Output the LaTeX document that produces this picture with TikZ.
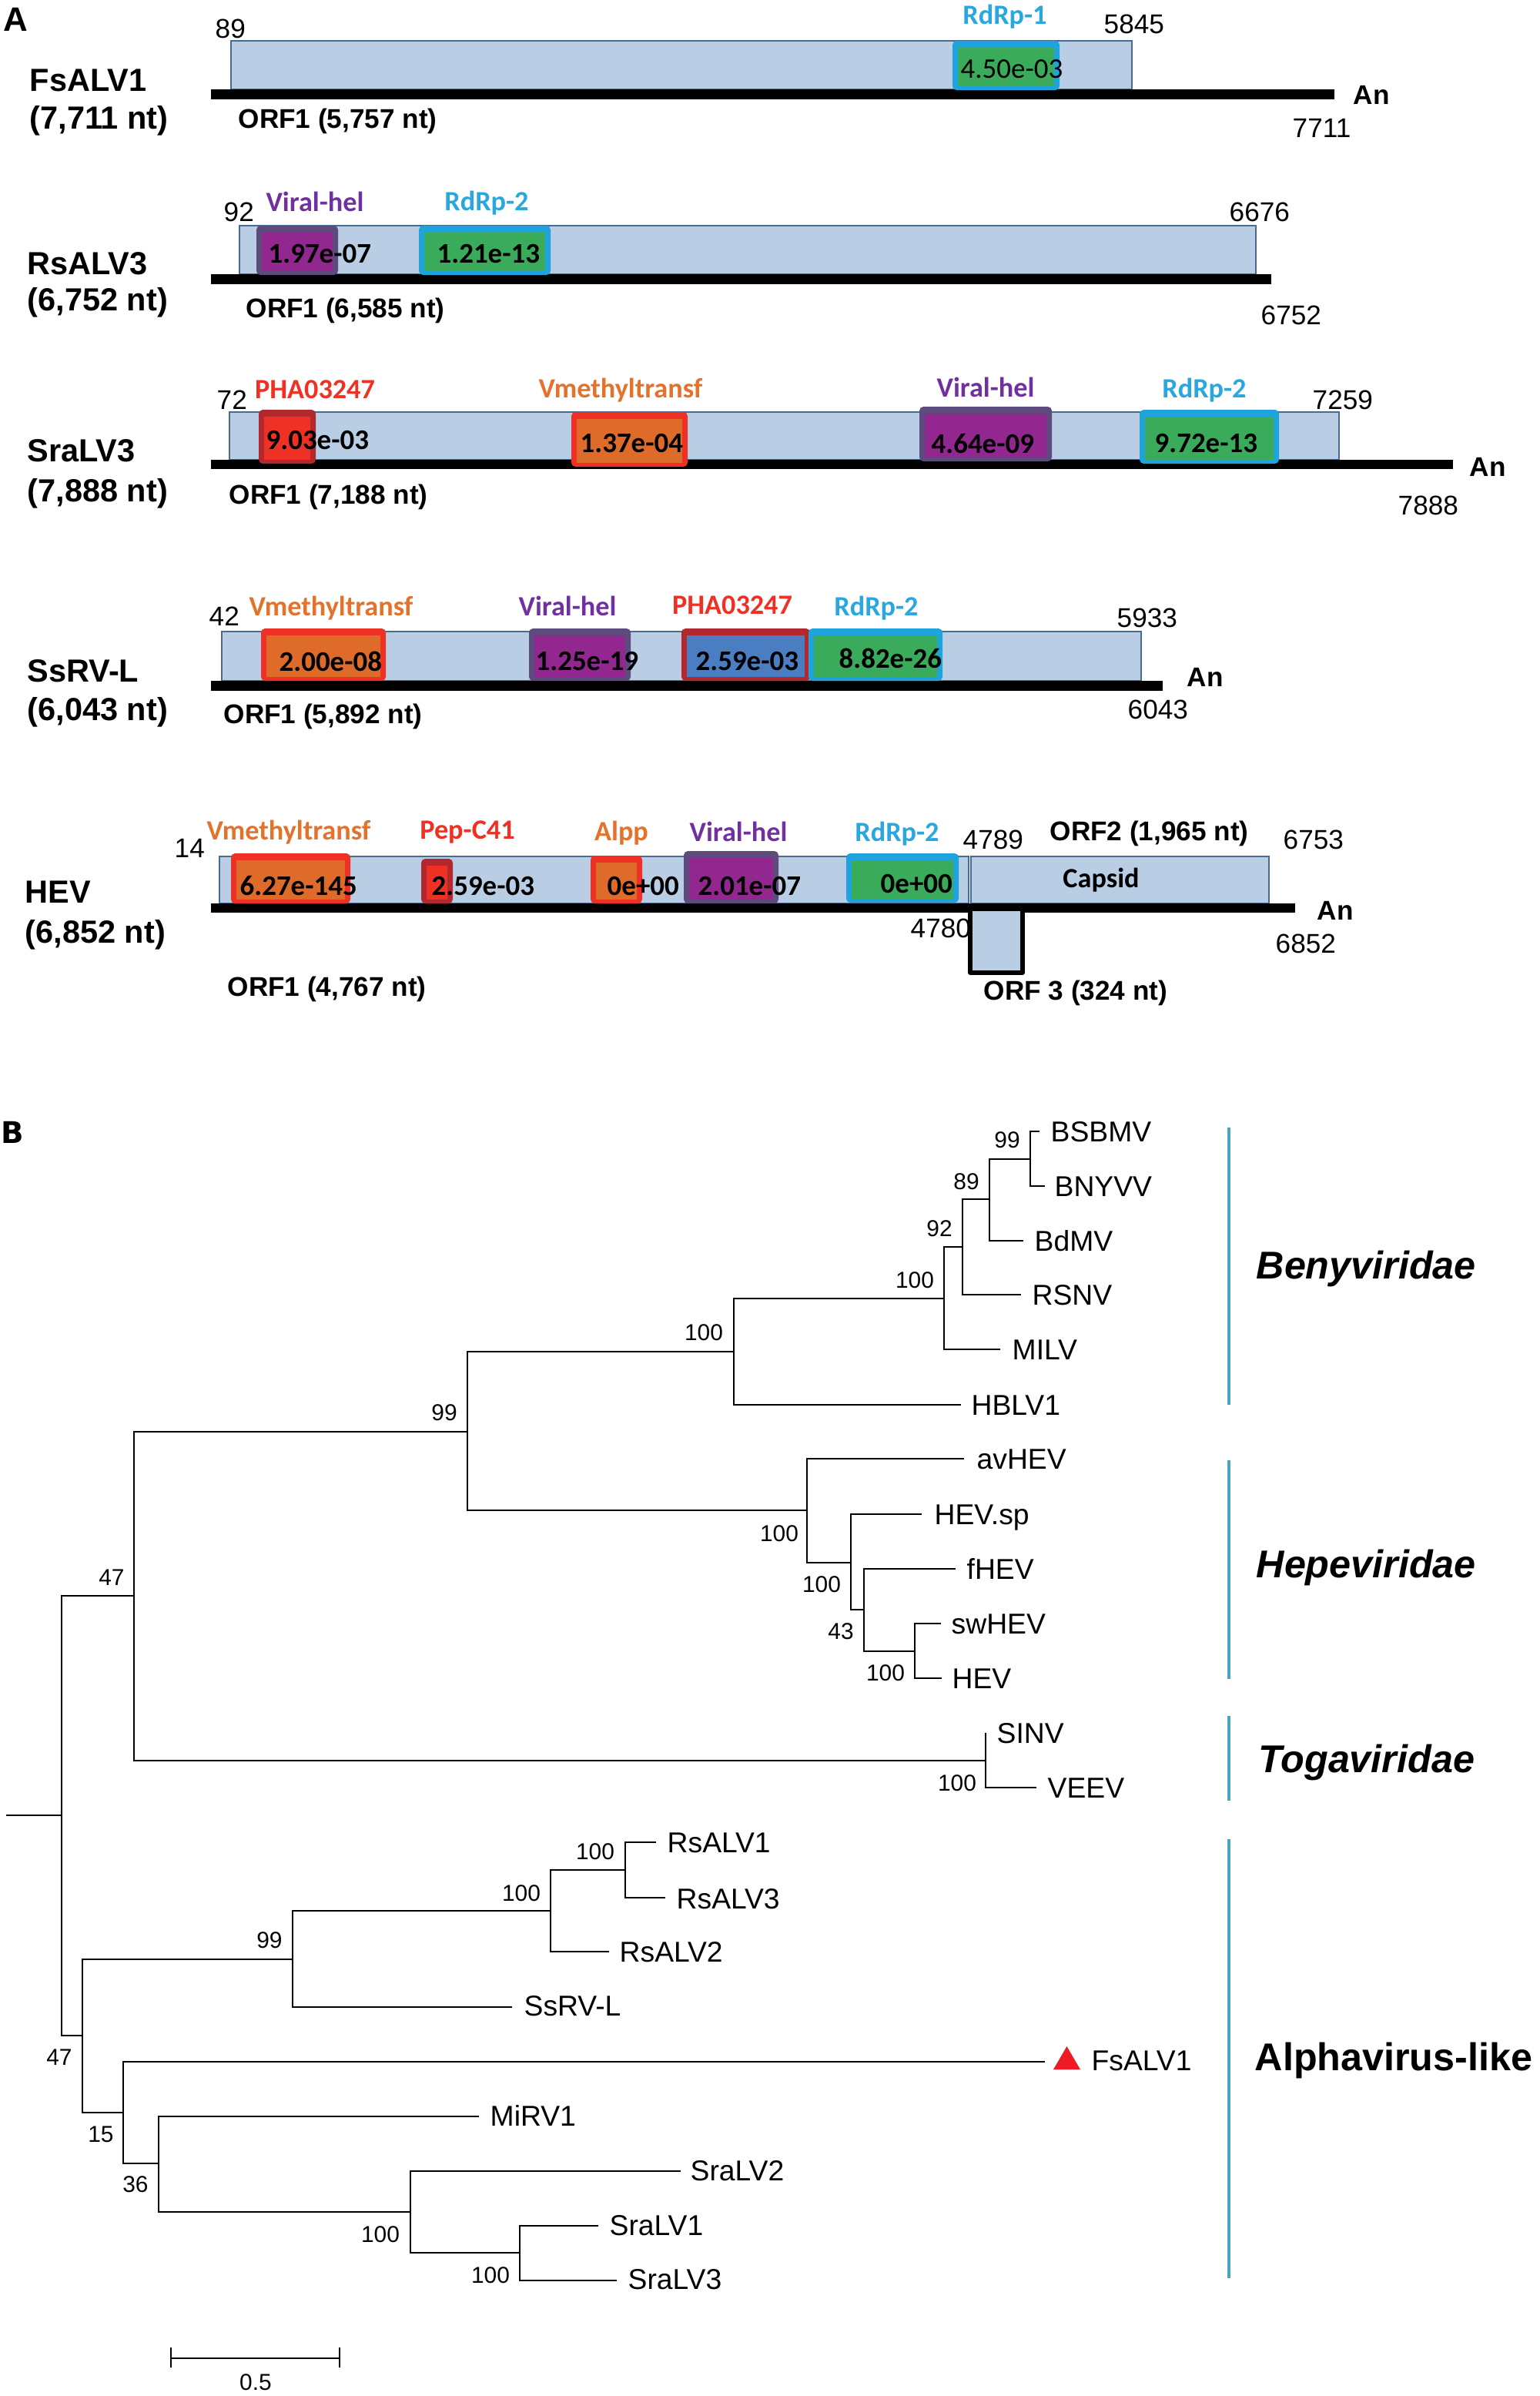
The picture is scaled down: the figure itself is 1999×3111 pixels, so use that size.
\documentclass[tikz,border=0pt]{standalone}
\usepackage{fontspec}
\setmainfont{Liberation Sans}
\newfontfamily\calib{Carlito}
\newfontfamily\djv{DejaVu Sans}
\usetikzlibrary{calc}
\definecolor{orfblue}{HTML}{B9CDE5}
\definecolor{orfedge}{HTML}{4A6B90}
\definecolor{rdrpblue}{HTML}{1FA3DC}
\definecolor{rdrpgreen}{HTML}{3AAA5B}
\definecolor{helborder}{HTML}{5E4B7D}
\definecolor{helfill}{HTML}{92278F}
\definecolor{vmred}{HTML}{EE3124}
\definecolor{vmorange}{HTML}{DF6B2B}
\definecolor{phadark}{HTML}{B1282E}
\definecolor{phared}{HTML}{EE3124}
\definecolor{phablue}{HTML}{4A7DC1}
\definecolor{labcyan}{HTML}{2AA7DF}
\definecolor{labpurple}{HTML}{7030A0}
\definecolor{labred}{HTML}{EE3124}
\definecolor{laborange}{HTML}{E3722D}
\definecolor{famcol}{HTML}{4BA3BF}
\definecolor{trired}{HTML}{ED1C24}
\newcommand{\dombox}[6]{%
  \fill[#5, rounded corners=1.5pt] (#1,#2) rectangle (#3,#4);
  \fill[#6] (#1+7,#2+9) rectangle (#3-7,#4-5);
}
\tikzset{
  gname/.style={anchor=west, inner sep=0, font=\fontsize{11.8}{13}\selectfont\bfseries},
  orflab/.style={anchor=west, inner sep=0, font=\fontsize{10}{12}\selectfont\bfseries},
  posnum/.style={anchor=west, inner sep=0, font=\fontsize{10}{12}\selectfont},
  anlab/.style={anchor=west, inner sep=0, font=\fontsize{10}{12}\selectfont\bfseries},
  dlab/.style={inner sep=0, font=\calib\fontsize{10.3}{12}\selectfont\bfseries},
  evl/.style={anchor=west, inner sep=0, font=\calib\fontsize{10.5}{12}\selectfont\bfseries},
  orfbox/.style={fill=orfblue, draw=orfedge, line width=0.6pt},
  leaf/.style={anchor=base west, inner sep=0, font=\fontsize{10.6}{12}\selectfont},
  boot/.style={inner sep=0, font=\fontsize{8.5}{10}\selectfont},
  fam/.style={anchor=base west, inner sep=0, font=\fontsize{14.3}{16}\selectfont\bfseries\itshape},
  treeedge/.style={line width=0.7pt},
  famline/.style={line width=1.4pt, color=famcol},
}
\begin{document}
\begin{tikzpicture}[x=0.01cm, y=-0.01cm]
\useasboundingbox (0,0) rectangle (1999,3111);

% ================= Panel A =================
\node[inner sep=0, font=\fontsize{12.5}{14}\selectfont\bfseries] (panelA) at (20,25) {A};

% ---- FsALV1 ----
\node[gname] (g1name) at (38,104) {FsALV1};
\node[gname] (g1len) at (38,157) {(7,711 nt)};
\draw[orfbox] (300,53) rectangle (1470,116);
\fill[black] (274,116) rectangle (1733,129);
\dombox{1237}{53}{1376}{117}{rdrpblue}{rdrpgreen}
\node[dlab, text=labcyan] (g1d1) at (1305,22) {RdRp-1};
\node[evl, font=\calib\fontsize{10.5}{12}\selectfont] (g1e1) at (1247,90) {4.50e-03};
\node[posnum] (g1s) at (279,37) {89};
\node[posnum] (g1e) at (1433,31) {5845};
\node[anlab] (g1an) at (1757,123) {An};
\node[posnum] (g1t) at (1678,166) {7711};
\node[orflab] (g1orf) at (309,157) {ORF1 (5,757 nt)};

% ---- RsALV3 ----
\node[gname] (g2name) at (35,342) {RsALV3};
\node[gname] (g2len) at (35,393) {(6,752 nt)};
\draw[orfbox] (311,293) rectangle (1631,356);
\fill[black] (274,356) rectangle (1651,369);
\dombox{333}{293}{439}{357}{helborder}{helfill}
\dombox{544}{293}{715}{357}{rdrpblue}{rdrpgreen}
\node[dlab, text=labpurple] (g2d1) at (409,262) {Viral-hel};
\node[dlab, text=labcyan] (g2d2) at (632,264) {RdRp-2};
\node[evl] (g2e1) at (348,330) {1.97e-07};
\node[evl] (g2e2) at (567,330) {1.21e-13};
\node[posnum] (g2s) at (290,275) {92};
\node[posnum] (g2e) at (1596,275) {6676};
\node[posnum] (g2t) at (1637,409) {6752};
\node[orflab] (g2orf) at (319,403) {ORF1 (6,585 nt)};

% ---- SraLV3 ----
\node[gname] (g3name) at (35,585) {SraLV3};
\node[gname] (g3len) at (35,641) {(7,888 nt)};
\draw[orfbox] (298,535) rectangle (1739,597);
\fill[black] (274,597) rectangle (1887,609);
\dombox{336}{532}{410}{602}{phadark}{phared}
\dombox{742}{535}{893}{606}{vmred}{vmorange}
\dombox{1194}{528}{1366}{599}{helborder}{helfill}
\dombox{1480}{532}{1661}{602}{rdrpblue}{rdrpgreen}
\node[dlab, text=labred] (g3d1) at (409,506) {PHA03247};
\node[dlab, text=laborange] (g3d2) at (806,507) {Vmethyltransf};
\node[dlab, text=labpurple] (g3d3) at (1280,503) {Viral-hel};
\node[dlab, text=labcyan] (g3d4) at (1564,507) {RdRp-2};
\node[evl] (g3e1) at (345,572) {9.03e-03};
\node[evl] (g3e2) at (753,576) {1.37e-04};
\node[evl] (g3e3) at (1209,576) {4.64e-09};
\node[evl] (g3e4) at (1499,576) {9.72e-13};
\node[posnum] (g3s) at (281,519) {72};
\node[posnum] (g3e) at (1704,519) {7259};
\node[anlab] (g3an) at (1908,606) {An};
\node[posnum] (g3t) at (1815,656) {7888};
\node[orflab] (g3orf) at (297,645) {ORF1 (7,188 nt)};

% ---- SsRV-L ----
\node[gname] (g4name) at (35,871) {SsRV-L};
\node[gname] (g4len) at (35,925) {(6,043 nt)};
\draw[orfbox] (288,820) rectangle (1482,884);
\fill[black] (274,884) rectangle (1510,897);
\dombox{339}{816}{501}{884}{vmred}{vmorange}
\dombox{687}{816}{819}{884}{helborder}{helfill}
\dombox{885}{816}{1052}{884}{phadark}{phablue}
\dombox{1050}{816}{1224}{884}{rdrpblue}{rdrpgreen}
\node[dlab, text=laborange] (g4d1) at (430,790) {Vmethyltransf};
\node[dlab, text=labpurple] (g4d2) at (737,787) {Viral-hel};
\node[dlab, text=labred] (g4d3) at (951,786) {PHA03247};
\node[dlab, text=labcyan] (g4d4) at (1138,790) {RdRp-2};
\node[evl] (g4e1) at (362,859) {2.00e-08};
\node[evl] (g4e2) at (695,859) {1.25e-19};
\node[evl] (g4e3) at (903,859) {2.59e-03};
\node[evl] (g4e4) at (1089,855) {8.82e-26};
\node[posnum] (g4s) at (271,800) {42};
\node[posnum] (g4e) at (1450,802) {5933};
\node[anlab] (g4an) at (1541,879) {An};
\node[posnum] (g4t) at (1464,921) {6043};
\node[orflab] (g4orf) at (290,930) {ORF1 (5,892 nt)};

% ---- HEV ----
\node[gname] (g5name) at (32,1158) {HEV};
\node[gname] (g5len) at (32,1214) {(6,852 nt)};
\draw[orfbox] (285,1112) rectangle (1258,1173);
\draw[orfbox] (1261,1112) rectangle (1648,1173);
\fill[black] (274,1173) rectangle (1682,1185);
\draw[fill=orfblue, line width=1.5pt, line join=round] (1260,1183) -- (1260,1263) -- (1328,1263) -- (1328,1183);
\dombox{300}{1108}{455}{1173}{vmred}{vmorange}
\dombox{547}{1115}{588}{1173}{phadark}{phared}
\dombox{767}{1111}{834}{1173}{vmred}{vmorange}
\dombox{888}{1105}{1011}{1173}{helborder}{helfill}
\dombox{1099}{1108}{1245}{1172}{rdrpblue}{rdrpgreen}
\node[dlab, text=laborange] (g5d1) at (375,1081) {Vmethyltransf};
\node[dlab, text=labred] (g5d2) at (607,1080) {Pep-C41};
\node[dlab, text=laborange] (g5d3) at (807,1082) {Alpp};
\node[dlab, text=labpurple] (g5d4) at (959,1080) {Viral-hel};
\node[dlab, text=labcyan] (g5d5) at (1165,1083) {RdRp-2};
\node[evl] (g5e1) at (311,1150) {6.27e-145};
\node[evl] (g5e2) at (560,1151) {2.59e-03};
\node[evl] (g5e3) at (788,1151) {0e+00};
\node[evl] (g5e4) at (906,1151) {2.01e-07};
\node[evl] (g5e5) at (1143,1148) {0e+00};
\node[dlab] (g5cap) at (1430,1143) {Capsid};
\node[posnum] (g5s) at (226,1101) {14};
\node[posnum] (g5o2s) at (1250,1090) {4789};
\node[orflab] (g5orf2) at (1363,1082) {ORF2 (1,965 nt)};
\node[posnum] (g5o2e) at (1666,1090) {6753};
\node[anlab] (g5an) at (1710,1182) {An};
\node[posnum] (g5t) at (1656,1225) {6852};
\node[posnum] (g5o3s) at (1182,1205) {4780};
\node[orflab] (g5orf3) at (1277,1289) {ORF 3 (324 nt)};
\node[orflab] (g5orf1) at (295,1284) {ORF1 (4,767 nt)};

% ================= Panel B =================
\node[inner sep=0, font=\djv\fontsize{11}{13}\selectfont\bfseries] (panelB) at (16,1470) {B};

% internal nodes
\coordinate (rootL) at (8,2357);
\coordinate (root) at (80,2357);
\coordinate (n47a) at (174,2072);
\coordinate (n99) at (607,1859);
\coordinate (nB100) at (953,1755);
\coordinate (nB100i) at (1226,1686);
\coordinate (n92) at (1250,1619);
\coordinate (n89) at (1285,1557);
\coordinate (n99b) at (1338,1505);
\coordinate (nH100) at (1048,1961);
\coordinate (nH100b) at (1105,2029);
\coordinate (n43) at (1122,2090);
\coordinate (nsw) at (1188,2144);
\coordinate (ntoga) at (1280,2286);
\coordinate (n47b) at (107,2643);
\coordinate (nR99) at (380,2544);
\coordinate (nR100) at (715,2481);
\coordinate (nR100i) at (812,2428);
\coordinate (n15) at (160,2743);
\coordinate (n36) at (206,2809);
\coordinate (nS100) at (533,2872);
\coordinate (nS100i) at (675,2925);
% leaves
\coordinate (cBSBMV) at (1350,1469);
\coordinate (cBNYVV) at (1357,1540);
\coordinate (cBdMV) at (1329,1611);
\coordinate (cRSNV) at (1326,1681);
\coordinate (cMILV) at (1299,1752);
\coordinate (cHBLV1) at (1248,1824);
\coordinate (cavHEV) at (1252,1894);
\coordinate (cHEVsp) at (1197,1966);
\coordinate (cfHEV) at (1241,2037);
\coordinate (cswHEV) at (1222,2108);
\coordinate (cHEV) at (1223,2179);
\coordinate (cSINV) at (1280,2250);
\coordinate (cVEEV) at (1346,2321);
\coordinate (cRsALV1) at (852,2392);
\coordinate (cRsALV3) at (864,2464);
\coordinate (cRsALV2) at (791,2534);
\coordinate (cSsRVL) at (665,2606);
\coordinate (cFsALV1) at (1357,2677);
\coordinate (cMiRV1) at (622,2748);
\coordinate (cSraLV2) at (884,2819);
\coordinate (cSraLV1) at (777,2890);
\coordinate (cSraLV3) at (801,2961);

% edges
\draw[treeedge] (rootL) -- (root);
\draw[treeedge] (root) |- (n47a);
\draw[treeedge] (root) |- (n47b);
\draw[treeedge] (n47a) |- (n99);
\draw[treeedge] (n47a) |- (ntoga);
\draw[treeedge] (n99) |- (nB100);
\draw[treeedge] (n99) |- (nH100);
\draw[treeedge] (nB100) |- (nB100i);
\draw[treeedge] (nB100) |- (cHBLV1);
\draw[treeedge] (nB100i) |- (n92);
\draw[treeedge] (nB100i) |- (cMILV);
\draw[treeedge] (n92) |- (n89);
\draw[treeedge] (n92) |- (cRSNV);
\draw[treeedge] (n89) |- (n99b);
\draw[treeedge] (n89) |- (cBdMV);
\draw[treeedge] (n99b) |- (cBSBMV);
\draw[treeedge] (n99b) |- (cBNYVV);
\draw[treeedge] (nH100) |- (cavHEV);
\draw[treeedge] (nH100) |- (nH100b);
\draw[treeedge] (nH100b) |- (cHEVsp);
\draw[treeedge] (nH100b) |- (n43);
\draw[treeedge] (n43) |- (cfHEV);
\draw[treeedge] (n43) |- (nsw);
\draw[treeedge] (nsw) |- (cswHEV);
\draw[treeedge] (nsw) |- (cHEV);
\draw[treeedge] (ntoga) |- (cSINV);
\draw[treeedge] (ntoga) |- (cVEEV);
\draw[treeedge] (n47b) |- (nR99);
\draw[treeedge] (n47b) |- (n15);
\draw[treeedge] (nR99) |- (nR100);
\draw[treeedge] (nR99) |- (cSsRVL);
\draw[treeedge] (nR100) |- (nR100i);
\draw[treeedge] (nR100) |- (cRsALV2);
\draw[treeedge] (nR100i) |- (cRsALV1);
\draw[treeedge] (nR100i) |- (cRsALV3);
\draw[treeedge] (n15) |- (cFsALV1);
\draw[treeedge] (n15) |- (n36);
\draw[treeedge] (n36) |- (cMiRV1);
\draw[treeedge] (n36) |- (nS100);
\draw[treeedge] (nS100) |- (cSraLV2);
\draw[treeedge] (nS100) |- (nS100i);
\draw[treeedge] (nS100i) |- (cSraLV1);
\draw[treeedge] (nS100i) |- (cSraLV3);

% leaf labels
\node[leaf] (tBSBMV) at ($(cBSBMV)+(14,13)$) {BSBMV};
\node[leaf] (tBNYVV) at ($(cBNYVV)+(12,13)$) {BNYVV};
\node[leaf] (tBdMV) at ($(cBdMV)+(14,13)$) {BdMV};
\node[leaf] (tRSNV) at ($(cRSNV)+(14,13)$) {RSNV};
\node[leaf] (tMILV) at ($(cMILV)+(15,13)$) {MILV};
\node[leaf] (tHBLV1) at ($(cHBLV1)+(13,13)$) {HBLV1};
\node[leaf] (tavHEV) at ($(cavHEV)+(16,13)$) {avHEV};
\node[leaf] (tHEVsp) at ($(cHEVsp)+(16,13)$) {HEV.sp};
\node[leaf] (tfHEV) at ($(cfHEV)+(14,13)$) {fHEV};
\node[leaf] (tswHEV) at ($(cswHEV)+(13,13)$) {swHEV};
\node[leaf] (tHEV) at ($(cHEV)+(13,13)$) {HEV};
\node[leaf] (tSINV) at ($(cSINV)+(14,13)$) {SINV};
\node[leaf] (tVEEV) at ($(cVEEV)+(14,13)$) {VEEV};
\node[leaf] (tRsALV1) at ($(cRsALV1)+(14,13)$) {RsALV1};
\node[leaf] (tRsALV3) at ($(cRsALV3)+(14,14)$) {RsALV3};
\node[leaf] (tRsALV2) at ($(cRsALV2)+(13,13)$) {RsALV2};
\node[leaf] (tSsRVL) at ($(cSsRVL)+(15,11)$) {SsRV-L};
\node[leaf] (tFsALV1) at ($(cFsALV1)+(60,11)$) {FsALV1};
\node[leaf] (tMiRV1) at ($(cMiRV1)+(14,12)$) {MiRV1};
\node[leaf] (tSraLV2) at ($(cSraLV2)+(12,12)$) {SraLV2};
\node[leaf] (tSraLV1) at ($(cSraLV1)+(14,12)$) {SraLV1};
\node[leaf] (tSraLV3) at ($(cSraLV3)+(14,11)$) {SraLV3};
\fill[trired] (1368,2687) -- (1385.5,2657) -- (1403,2687) -- cycle;

% bootstrap values
\node[boot] (b47a) at (145,2048) {47};
\node[boot] (b99) at (577,1834) {99};
\node[boot] (bB100) at (914,1730) {100};
\node[boot] (bB100i) at (1188,1662) {100};
\node[boot] (b92) at (1220,1595) {92};
\node[boot] (b89) at (1255,1534) {89};
\node[boot] (b99b) at (1308,1480) {99};
\node[boot] (bH100) at (1012,1991) {100};
\node[boot] (bH100b) at (1067,2057) {100};
\node[boot] (b43) at (1092,2118) {43};
\node[boot] (bsw) at (1150,2172) {100};
\node[boot] (btoga) at (1243,2315) {100};
\node[boot] (bR100i) at (773,2404) {100};
\node[boot] (bR100) at (677,2458) {100};
\node[boot] (bR99) at (350,2519) {99};
\node[boot] (b47b) at (77,2671) {47};
\node[boot] (b15) at (131,2771) {15};
\node[boot] (b36) at (176,2836) {36};
\node[boot] (bS100) at (494,2901) {100};
\node[boot] (bS100i) at (637,2954) {100};

% family bars
\coordinate (fB1) at (1596,1464); \coordinate (fB2) at (1596,1824);
\coordinate (fH1) at (1596,1896); \coordinate (fH2) at (1596,2180);
\coordinate (fT1) at (1596,2228); \coordinate (fT2) at (1596,2338);
\coordinate (fA1) at (1596,2388); \coordinate (fA2) at (1596,2958);
\draw[famline] (fB1) -- (fB2);
\draw[famline] (fH1) -- (fH2);
\draw[famline] (fT1) -- (fT2);
\draw[famline] (fA1) -- (fA2);
\node[fam] (famB) at (1631,1660) {Benyviridae};
\node[fam] (famH) at (1631,2048) {Hepeviridae};
\node[fam] (famT) at (1634,2301) {Togaviridae};
\node[fam, font=\fontsize{14.3}{16}\selectfont\bfseries] (famA) at (1629,2688) {Alphavirus-like};

% scale bar
\coordinate (sb1) at (222,3062);
\coordinate (sb2) at (441,3062);
\draw[treeedge] (sb1) -- (sb2);
\draw[treeedge] ($(sb1)+(0,-14)$) -- ($(sb1)+(0,12)$);
\draw[treeedge] ($(sb2)+(0,-14)$) -- ($(sb2)+(0,12)$);
\node[boot] (sblab) at (332,3093) {0.5};
\end{tikzpicture}
\end{document}
